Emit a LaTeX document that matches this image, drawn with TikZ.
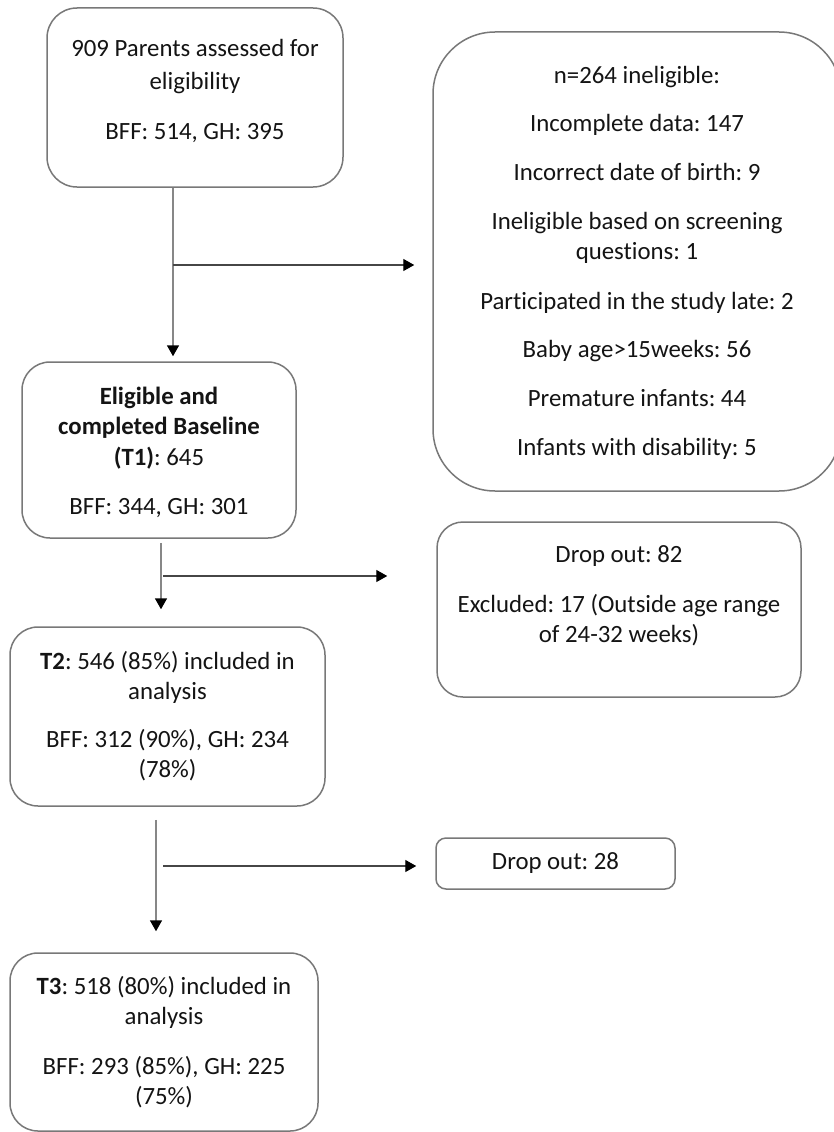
\documentclass[tikz,border=0pt]{standalone}
\usepackage{fontspec}
\setmainfont{Carlito}[Ligatures=NoCommon]
\frenchspacing
\usetikzlibrary{arrows.meta}
\definecolor{boxgray}{RGB}{120,120,120}
\definecolor{lingray}{RGB}{135,135,135}
\definecolor{lindark}{RGB}{70,70,70}
\definecolor{txtcol}{RGB}{20,20,20}
\begin{document}
\begin{tikzpicture}[x=1pt,y=-1pt,
  box/.style={draw=boxgray, line width=1.5pt, rounded corners=#1, inner sep=0pt, fill=white},
  txt/.style={anchor=base, inner sep=0pt, font=\fontsize{24.8}{30}\selectfont, text=txtcol},
  vline/.style={draw=lingray, line width=1.6pt, -{Triangle[length=11pt,width=12pt,color=black]}},
  hline/.style={draw=lindark, line width=1.4pt, -{Triangle[length=11pt,width=12pt,color=black]}}]
\useasboundingbox (0,0) rectangle (834,1132);
\fill[white] (0,0) rectangle (834,1132);

% boxes
\node[box=30pt, minimum width=296pt, minimum height=179pt] (A) at (195,97.5) {};
\node[box=62pt, minimum width=408pt, minimum height=459pt] (C) at (637,261.5) {};
\node[box=28pt, minimum width=274pt, minimum height=176pt] (B) at (159,450) {};
\node[box=26pt, minimum width=364pt, minimum height=175pt] (D) at (619,609.5) {};
\node[box=28pt, minimum width=315pt, minimum height=179pt] (E) at (167.5,716.5) {};
\node[box=10pt, minimum width=239pt, minimum height=51pt, text=txtcol, font=\fontsize{24.8}{30}\selectfont] (F) at (555.5,863.5) {Drop out: 28};
\node[box=28pt, minimum width=308pt, minimum height=178pt] (G) at (164,1042) {};

% texts A
\node[txt] (a1) at (195,57) {909 Parents assessed for};
\node[txt] (a2) at (195,89) {eligibility};
\node[txt] (a3) at (195,139) {BFF: 514, GH: 395};
% texts C
\node[txt] (c1) at (637,83) {n=264 ineligible:};
\node[txt] (c2) at (637,131) {Incomplete data: 147};
\node[txt] (c3) at (637,180) {Incorrect date of birth: 9};
\node[txt] (c4) at (637,229) {Ineligible based on screening};
\node[txt] (c5) at (637,259) {questions: 1};
\node[txt] (c6) at (637,309) {Participated in the study late: 2};
\node[txt] (c7) at (637,357) {Baby age>15weeks: 56};
\node[txt] (c8) at (637,406) {Premature infants: 44};
\node[txt] (c9) at (637,455) {Infants with disability: 5};
% texts B
\node[txt] (b1) at (159,404) {\bfseries Eligible and};
\node[txt] (b2) at (159,434) {\bfseries completed Baseline};
\node[txt] (b3) at (159,465) {\textbf{(T1)}: 645};
\node[txt] (b4) at (159,514) {BFF: 344, GH: 301};
% texts D
\node[txt] (d1) at (619,562) {Drop out: 82};
\node[txt] (d2) at (619,612) {Excluded: 17 (Outside age range};
\node[txt] (d3) at (619,642) {of 24-32 weeks)};
% texts E
\node[txt] (e1) at (167.5,669) {\textbf{T2}: 546 (85\%) included in};
\node[txt] (e2) at (167.5,699) {analysis};
\node[txt] (e3) at (167.5,747) {BFF: 312 (90\%), GH: 234};
\node[txt] (e4) at (167.5,777) {(78\%)};
% texts G
\node[txt] (g1) at (164,994) {\textbf{T3}: 518 (80\%) included in};
\node[txt] (g2) at (164,1024) {analysis};
\node[txt] (g3) at (164,1074) {BFF: 293 (85\%), GH: 225};
\node[txt] (g4) at (164,1104) {(75\%)};

% connector coordinates
\coordinate (v1) at (173,0);
\coordinate (v2) at (161,0);
\coordinate (v3) at (156,0);
\coordinate (j1) at (173,265);
\coordinate (j2) at (163,576);
\coordinate (j3) at (163,866);

% connectors
\draw[vline, shorten >=5pt] (A.south -| v1) -- (B.north -| v1);
\draw[hline, shorten >=18pt] (j1) -- (C.west |- j1);
\draw[vline, shorten <=4pt, shorten >=17pt] (B.south -| v2) -- (E.north -| v2);
\draw[hline, shorten >=49pt] (j2) -- (D.west |- j2);
\draw[vline, shorten <=13pt, shorten >=21pt] (E.south -| v3) -- (G.north -| v3);
\draw[hline, shorten >=19pt] (j3) -- (F.west |- j3);
\end{tikzpicture}
\end{document}
